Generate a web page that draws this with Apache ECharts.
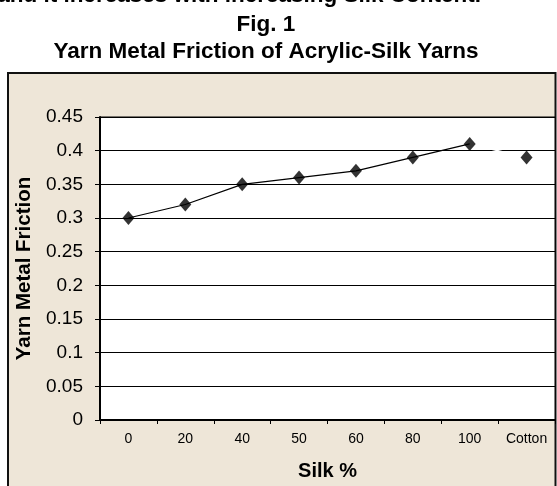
<!DOCTYPE html>
<html>
<head>
<meta charset="utf-8">
<script src="https://cdn.jsdelivr.net/npm/echarts@6/dist/echarts.min.js"></script>
<style>
  html, body { margin: 0; padding: 0; background: #ffffff; }
  #chart { width: 557px; height: 486px; }
</style>
</head>
<body>
<div id="chart"></div>
<script>
// Silk content categories and measured yarn–metal friction
const categories = ['0', '20', '40', '50', '60', '80', '100', 'Cotton'];
const silkFriction = [0.30, 0.32, 0.35, 0.36, 0.37, 0.39, 0.41, null];
const cottonFriction = 0.39;
const yTicks = { min: 0, max: 0.45, interval: 0.05 };

// Marker series: all points including cotton
const allPoints = silkFriction.slice(0, 7).concat([cottonFriction]);
// Faint white connector from 100% silk to cotton
const connector = categories.map((c, i) => (i >= 6 ? allPoints[i] : null));

const FONT = 'Liberation Sans, Arial, sans-serif';

const chart = echarts.init(document.getElementById('chart'), null, { renderer: 'canvas' });
chart.setOption({
  animation: false,
  backgroundColor: '#ffffff',
  graphic: [
    { type: 'rect', z: -10, shape: { x: 8, y: 73, width: 547.5, height: 430 },
      style: { fill: '#EEE6D8', stroke: '#111111', lineWidth: 2 } },
    { type: 'text', z: 10,
      style: { x: 481, y: -4, textAlign: 'right', textVerticalAlign: 'middle',
        text: 'and it increases with increasing Silk Content.', font: 'bold 22.5px ' + FONT, fill: '#000' } },
    { type: 'text', z: 10,
      style: { x: 266, y: 25, textAlign: 'center', textVerticalAlign: 'middle',
        text: 'Fig. 1', font: 'bold 22.5px ' + FONT, fill: '#000' } },
    { type: 'text', z: 10,
      style: { x: 266, y: 52, textAlign: 'center', textVerticalAlign: 'middle',
        text: 'Yarn Metal Friction of Acrylic-Silk Yarns', font: 'bold 22.5px ' + FONT, fill: '#000' } }
  ],
  grid: {
    left: 100, right: 2, top: 117, bottom: 63,
    show: true, backgroundColor: '#ffffff', borderColor: '#000000', borderWidth: 1
  },
  xAxis: {
    type: 'category',
    data: categories,
    boundaryGap: true,
    name: 'Silk %',
    nameLocation: 'middle',
    nameGap: 41,
    nameTextStyle: { fontFamily: FONT, fontWeight: 'bold', fontSize: 20, color: '#000' },
    axisLine: { lineStyle: { color: '#000', width: 2 } },
    axisTick: { show: true, length: 4, inside: false, alignWithLabel: false, lineStyle: { color: '#000', width: 1 } },
    axisLabel: { fontFamily: FONT, fontSize: 14, color: '#000', margin: 12 },
    splitLine: { show: false }
  },
  yAxis: {
    type: 'value',
    min: yTicks.min, max: yTicks.max, interval: yTicks.interval,
    name: 'Yarn Metal Friction',
    nameLocation: 'middle',
    nameGap: 64,
    nameTextStyle: { fontFamily: FONT, fontWeight: 'bold', fontSize: 20.5, color: '#000' },
    axisLine: { show: true, lineStyle: { color: '#000', width: 2 } },
    axisTick: { show: true, length: 5, lineStyle: { color: '#000', width: 1 } },
    axisLabel: { fontFamily: FONT, fontSize: 19, color: '#000', margin: 17,
      formatter: v => String(parseFloat(v.toFixed(2))) },
    splitLine: { show: true, lineStyle: { color: '#000', width: 1 } }
  },
  series: [
    {
      type: 'line',
      data: connector,
      symbol: 'none',
      lineStyle: { color: '#ffffff', width: 1.5 },
      z: 2
    },
    {
      type: 'line',
      data: silkFriction,
      symbol: 'none',
      lineStyle: { color: '#000000', width: 1.2 },
      z: 3
    },
    {
      type: 'scatter',
      data: allPoints,
      symbol: 'diamond',
      symbolSize: [12, 14],
      itemStyle: { color: '#000000' },
      z: 4
    }
  ]
});
</script>
</body>
</html>
